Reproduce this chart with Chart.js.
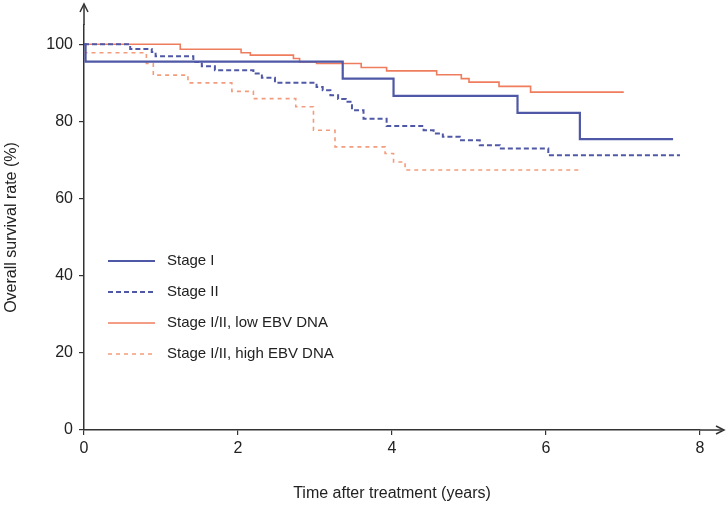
<!DOCTYPE html>
<html>
<head>
<meta charset="utf-8">
<script src="https://cdn.jsdelivr.net/npm/chart.js@4.4.1/dist/chart.umd.min.js"></script>
<style>
  html, body { margin: 0; padding: 0; background: #fff; }
  #wrap { width: 728px; height: 506px; }
</style>
</head>
<body>
<div id="wrap"><canvas id="survivalChart"></canvas></div>
<script>
// Kaplan-Meier steps: value holds from each time onward
const stageOneTimes = [0, 0.02, 3.36, 4.02, 5.63, 6.44, 7.65];
const stageOneValues = [100, 95.5, 91.1, 86.6, 82.2, 75.4, 75.4];

const stageTwoTimes = [0, 0.6, 0.88, 0.93, 1.42, 1.53, 1.70, 2.2, 2.31, 2.48, 3.02, 3.1, 3.2, 3.3, 3.4, 3.48, 3.63, 3.93, 4.41, 4.54, 4.66, 4.88, 5.14, 5.4, 6.03, 7.74];
const stageTwoValues = [100, 98.8, 98.0, 96.9, 95.4, 94.3, 93.3, 92.4, 91.3, 90.0, 88.9, 88.1, 86.8, 85.8, 85.1, 82.9, 80.7, 78.8, 77.7, 76.9, 76.0, 75.1, 73.8, 73.0, 71.2, 71.2];

const lowEbvTimes = [0, 1.25, 2.04, 2.16, 2.72, 2.8, 3.02, 3.6, 3.93, 4.58, 4.9, 5.0, 5.39, 5.8, 7.01];
const lowEbvValues = [100, 98.7, 97.8, 97.2, 96.3, 95.4, 95.0, 94.0, 93.1, 92.1, 91.1, 90.2, 89.1, 87.6, 87.6];

const highEbvTimes = [0, 0.02, 0.81, 0.90, 1.35, 1.92, 2.2, 2.75, 2.98, 3.26, 3.91, 4.02, 4.17, 6.42];
const highEbvValues = [100, 97.8, 95.0, 92.0, 90.0, 87.8, 85.9, 83.8, 77.7, 73.4, 71.7, 69.5, 67.4, 67.4];

const seriesLabels = ['Stage I', 'Stage II', 'Stage I/II, low EBV DNA', 'Stage I/II, high EBV DNA'];
const xTicks = [0, 2, 4, 6, 8];
const yTicks = [0, 20, 40, 60, 80, 100];

const FONT = "'Liberation Sans', Arial, sans-serif";
const AXIS = '#333333';

function toPoints(times, values) {
    return times.map((t, i) => ({ x: t, y: values[i] }));
}

const styles = [
    { color: '#4f58a6', width: 2.2, dash: [] },
    { color: '#4f58a6', width: 2, dash: [5, 3] },
    { color: '#ef7d5d', width: 1.6, dash: [] },
    { color: '#f39c7c', width: 1.6, dash: [4, 4] }
];

const seriesData = [
    toPoints(stageOneTimes, stageOneValues),
    toPoints(stageTwoTimes, stageTwoValues),
    toPoints(lowEbvTimes, lowEbvValues),
    toPoints(highEbvTimes, highEbvValues)
];

// axis arrows past the last tick + legend inside the plot
const extrasPlugin = {
    id: 'extras',
    afterDraw(chart) {
        const { ctx, chartArea } = chart;
        const x0 = chartArea.left, y0 = chartArea.bottom;
        ctx.save();
        ctx.strokeStyle = AXIS;
        ctx.fillStyle = AXIS;
        ctx.lineWidth = 1.5;
        ctx.beginPath();
        ctx.moveTo(x0, chartArea.top); ctx.lineTo(x0, 6);
        ctx.moveTo(chartArea.right, y0); ctx.lineTo(722, y0);
        ctx.stroke();
        // arrowheads
        ctx.beginPath();
        ctx.moveTo(x0 - 4, 12); ctx.lineTo(x0, 4); ctx.lineTo(x0 + 4, 12);
        ctx.moveTo(716, y0 - 4); ctx.lineTo(724, y0); ctx.lineTo(716, y0 + 4);
        ctx.stroke();

        // legend
        ctx.font = "15px " + FONT;
        ctx.textBaseline = 'middle';
        seriesLabels.forEach((label, i) => {
            const y = 261 + i * 31;
            const s = styles[i];
            ctx.strokeStyle = s.color;
            ctx.lineWidth = s.width;
            ctx.setLineDash(s.dash);
            ctx.beginPath();
            ctx.moveTo(108, y); ctx.lineTo(155, y);
            ctx.stroke();
            ctx.setLineDash([]);
            ctx.fillStyle = '#222';
            ctx.fillText(label, 167, y);
        });
        ctx.restore();
    }
};

const ctx = document.getElementById('survivalChart').getContext('2d');
new Chart(ctx, {
    type: 'line',
    data: {
        datasets: seriesData.map((pts, i) => ({
            label: seriesLabels[i],
            data: pts,
            stepped: 'before',
            borderColor: styles[i].color,
            borderWidth: styles[i].width,
            borderDash: styles[i].dash,
            pointRadius: 0,
            fill: false
        }))
    },
    options: {
        responsive: true,
        maintainAspectRatio: false,
        animation: false,
        layout: { padding: { top: 25, right: 28, left: 0, bottom: 0 } },
        plugins: {
            legend: { display: false },
            tooltip: { enabled: false }
        },
        scales: {
            x: {
                type: 'linear',
                min: 0,
                max: 8,
                afterBuildTicks: (scale) => { scale.ticks = xTicks.map(v => ({ value: v })); },
                afterFit: (scale) => { scale.height = 76; },
                grid: { drawOnChartArea: false, color: AXIS, tickLength: 5, lineWidth: 1.2 },
                border: { color: AXIS, width: 1.5 },
                ticks: { color: '#222', padding: 4, font: { family: FONT, size: 16 } },
                title: {
                    display: true,
                    text: 'Time after treatment (years)',
                    color: '#222',
                    font: { family: FONT, size: 16 },
                    padding: { top: 0, bottom: 3 }
                }
            },
            y: {
                min: 0,
                max: 105,
                afterBuildTicks: (scale) => { scale.ticks = yTicks.map(v => ({ value: v })); },
                afterFit: (scale) => { scale.width = 84; },
                grid: { drawOnChartArea: false, color: AXIS, tickLength: 5, lineWidth: 1.2 },
                border: { color: AXIS, width: 1.5 },
                ticks: { color: '#222', padding: 6, font: { family: FONT, size: 16 } },
                title: {
                    display: true,
                    text: 'Overall survival rate (%)',
                    color: '#222',
                    font: { family: FONT, size: 16 },
                    padding: { top: 2, bottom: 0 }
                }
            }
        }
    },
    plugins: [extrasPlugin]
});
</script>
</body>
</html>
